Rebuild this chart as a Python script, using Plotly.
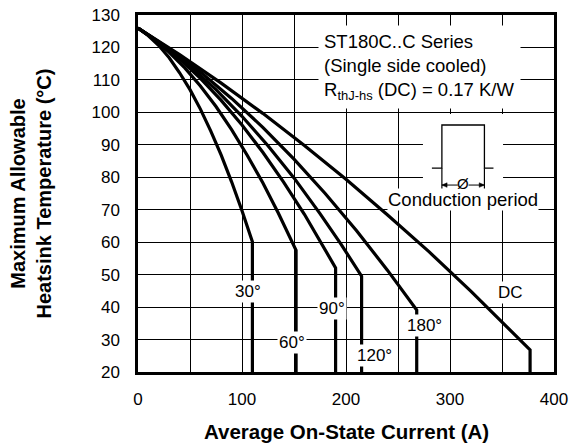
import plotly.graph_objects as go

# ---- data ----
cur_30 = [0, 10, 20, 30, 40, 50, 60, 70, 80, 90, 100, 110, 110]
tmp_30 = [126, 123.6, 120.6, 116.8, 112.2, 107.0, 101.0, 94.2, 86.8, 78.6, 69.7, 60.1, 20]

cur_60 = [0, 15, 30, 45, 60, 75, 90, 105, 120, 135, 152, 152]
tmp_60 = [126, 122.6, 118.5, 113.7, 108.1, 101.8, 94.7, 86.8, 78.3, 68.9, 57.5, 20]

cur_90 = [0, 20, 40, 60, 80, 100, 120, 140, 160, 175, 190, 190]
tmp_90 = [126, 121.6, 116.4, 110.5, 103.7, 96.1, 87.7, 78.5, 68.6, 60.5, 52.1, 20]

cur_120 = [0, 25, 50, 75, 100, 125, 150, 175, 195, 215, 215]
tmp_120 = [126, 120.6, 114.2, 107.0, 98.8, 89.7, 79.8, 68.8, 59.5, 49.5, 20]

cur_180 = [0, 30, 60, 90, 120, 150, 180, 210, 240, 268, 268]
tmp_180 = [126, 119.6, 112.4, 104.3, 95.4, 85.6, 75.0, 63.6, 51.3, 39.1, 20]

cur_dc = [0, 40, 80, 120, 160, 200, 240, 280, 320, 350, 377, 377]
tmp_dc = [126, 117.8, 109.0, 99.7, 89.8, 79.4, 68.4, 57.0, 44.9, 35.5, 26.8, 20]

curve_labels = ["30°", "60°", "90°", "120°", "180°", "DC"]
label_x = [106, 148, 187, 227, 275, 358]
label_y = [44.8, 29.1, 39.6, 25.2, 34.3, 44.5]

x_tick_vals = [0, 100, 200, 300, 400]
x_tick_text = ["0", "100", "200", "300", "400"]
y_tick_vals = [20, 30, 40, 50, 60, 70, 80, 90, 100, 110, 120, 130]
y_tick_text = [str(v) for v in y_tick_vals]

X_RANGE = [0, 400]
Y_RANGE = [20, 130]

FONT = "Liberation Sans, Arial, Helvetica, sans-serif"

fig = go.Figure()
series = [(cur_30, tmp_30), (cur_60, tmp_60), (cur_90, tmp_90),
          (cur_120, tmp_120), (cur_180, tmp_180), (cur_dc, tmp_dc)]
for xs, ys in series:
    fig.add_trace(go.Scatter(x=xs, y=ys, mode="lines",
                             line=dict(color="black", width=3.2),
                             showlegend=False, hoverinfo="skip"))

annotations = []
for t, lx, ly in zip(curve_labels, label_x, label_y):
    annotations.append(dict(x=lx, y=ly, text=t, showarrow=False,
                            font=dict(size=17, color="black", family=FONT),
                            bgcolor="white", borderpad=1))

# series info box
annotations.append(dict(
    x=173.4, y=126.9, xanchor="left", yanchor="top", align="left",
    text="ST180C..C Series<br>(Single side cooled)<br>R<sub>thJ-hs</sub> (DC) = 0.17 K/W",
    showarrow=False, bgcolor="white", borderpad=5,
    font=dict(size=18.5, color="black", family=FONT)))

# conduction period inset
annotations.append(dict(x=312.5, y=73.1, text="Conduction period", showarrow=False,
                        bgcolor="white", borderpad=0,
                        font=dict(size=18.5, color="black", family=FONT)))
annotations.append(dict(x=312.6, y=78.1, text="Ø", showarrow=False,
                        font=dict(size=15, color="black", family=FONT)))

# axis titles
annotations.append(dict(xref="paper", yref="paper", x=-0.2596, y=0.5, textangle=-90,
                        xanchor="center", yanchor="middle",
                        text="<b>Maximum Allowable<br>Heatsink Temperature (°C)</b>",
                        showarrow=False, font=dict(size=20, color="black", family=FONT)))
annotations.append(dict(xref="paper", yref="paper", x=0.5, y=-0.1672,
                        xanchor="center", yanchor="middle",
                        text="<b>Average On-State Current (A)</b>",
                        showarrow=False, font=dict(size=20.5, color="black", family=FONT)))

# inset pulse drawing (decoration), white box hides the grid behind it
pulse_y0, pulse_y1, dim_y, tick_y = 82.8, 96.1, 77.6, 76.3
pl, pr = 292.2, 333.1
shapes = [
    dict(type="rect", x0=274, x1=351, y0=76.0, y1=99.5, fillcolor="white",
         line=dict(width=0), layer="above"),
    dict(type="path",
         path=f"M 282.6 {pulse_y0} L {pl} {pulse_y0} L {pl} {pulse_y1} L {pr} {pulse_y1} "
              f"L {pr} {pulse_y0} L 341.8 {pulse_y0}",
         line=dict(color="black", width=1.3), layer="above"),
    dict(type="line", x0=pl, x1=pl, y0=pulse_y0, y1=tick_y,
         line=dict(color="black", width=1.2), layer="above"),
    dict(type="line", x0=pr, x1=pr, y0=pulse_y0, y1=tick_y,
         line=dict(color="black", width=1.2), layer="above"),
    dict(type="line", x0=pl, x1=307.5, y0=dim_y, y1=dim_y,
         line=dict(color="black", width=1), layer="above"),
    dict(type="line", x0=317.8, x1=pr, y0=dim_y, y1=dim_y,
         line=dict(color="black", width=1), layer="above"),
    dict(type="path", path=f"M {pl} {dim_y} L {pl+5} {dim_y+0.7} L {pl+5} {dim_y-0.7} Z",
         fillcolor="black", line=dict(color="black", width=0.5), layer="above"),
    dict(type="path", path=f"M {pr} {dim_y} L {pr-5} {dim_y+0.7} L {pr-5} {dim_y-0.7} Z",
         fillcolor="black", line=dict(color="black", width=0.5), layer="above"),
]

fig.update_layout(
    template="none",
    width=569, height=445,
    margin=dict(l=138, r=15, t=15, b=73, autoexpand=False),
    paper_bgcolor="white", plot_bgcolor="white",
    font=dict(family=FONT, color="black"),
    annotations=annotations, shapes=shapes,
    xaxis=dict(range=X_RANGE, tickmode="array", tickvals=x_tick_vals, ticktext=x_tick_text,
               showgrid=True, gridcolor="black", gridwidth=1.1,
               minor=dict(dtick=50, tick0=0, showgrid=True, gridcolor="black", gridwidth=1.1),
               showline=True, mirror=True, linecolor="black", linewidth=2.5,
               zeroline=False, ticks="outside", ticklen=10, tickcolor="rgba(0,0,0,0)",
               automargin=False,
               tickfont=dict(size=17, color="black", family=FONT)),
    yaxis=dict(range=Y_RANGE, tickmode="array", tickvals=y_tick_vals, ticktext=y_tick_text,
               showgrid=True, gridcolor="black", gridwidth=1.1,
               showline=True, mirror=True, linecolor="black", linewidth=2.5,
               zeroline=False, ticks="outside", ticklen=12, tickcolor="rgba(0,0,0,0)",
               automargin=False,
               tickfont=dict(size=17, color="black", family=FONT)),
)

fig.write_html("out.html", config={"displayModeBar": False},
               post_script="document.body.style.margin='0px';")
